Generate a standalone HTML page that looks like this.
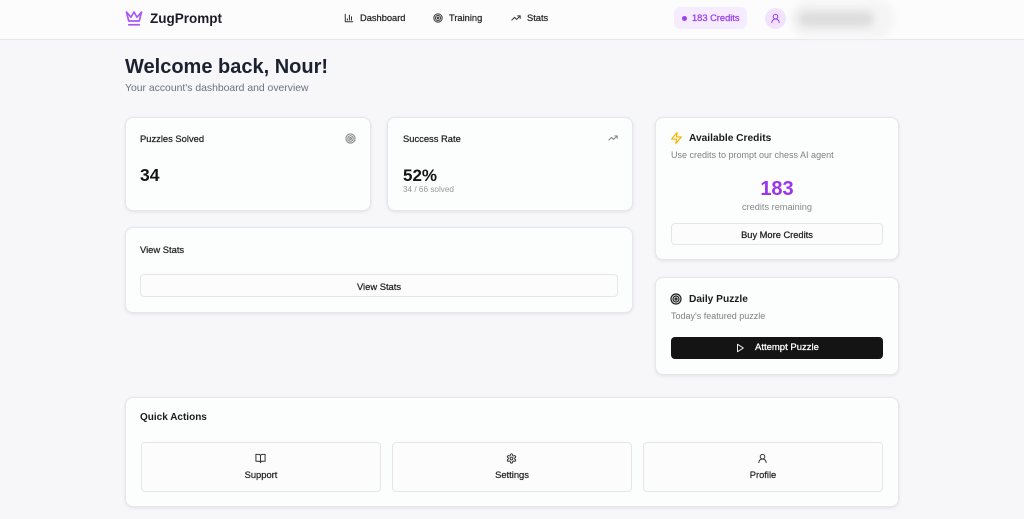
<!DOCTYPE html>
<html><head><meta charset="utf-8"><style>
*{margin:0;padding:0;box-sizing:border-box}
html,body{width:1024px;height:519px;overflow:hidden}
body{background:#f7f7f9;font-family:"Liberation Sans",Arial,sans-serif;position:relative;color:#222}
.a{position:absolute;white-space:nowrap}
.hdr{position:absolute;left:0;top:0;width:1024px;height:40px;background:#fcfcfd;border-bottom:1px solid #e8e8ec}
.card{position:absolute;background:#fcfdfd;border:1px solid #e6e7ea;border-radius:8px;box-shadow:0 1px 3px rgba(0,0,0,0.09)}
.btn{position:absolute;background:#fcfcfc;border:1px solid #e5e6e8;border-radius:4px}
.med{-webkit-text-stroke:0.25px currentColor}
svg{position:absolute;fill:none;stroke-linecap:round;stroke-linejoin:round}
</style></head><body>

<div class="hdr"></div>
<svg style="left:125px;top:9px" width="18" height="18" viewBox="0 0 24 24" stroke="#a855f7" stroke-width="2.2"><path d="M2 4l3 12h14l3-12-6 7-4-7-4 7-6-7z"/><path d="M5 21h14"/></svg>
<div class="a" style="left:150px;top:10px;font-size:13.5px;line-height:17px;font-weight:bold;color:#1c1c28">ZugPrompt</div>

<svg style="left:344px;top:13px" width="10" height="10" viewBox="0 0 24 24" stroke="#333" stroke-width="2.4"><path d="M3 3v18h18"/><path d="M18 17V9"/><path d="M13 17V5"/><path d="M8 17v-3"/></svg>
<div class="a med" style="left:360px;top:12px;font-size:9.3px;line-height:12px;color:#2a2a2a">Dashboard</div>
<svg style="left:433px;top:13px" width="10" height="10" viewBox="0 0 24 24" stroke="#333" stroke-width="2.4"><circle cx="12" cy="12" r="10"/><circle cx="12" cy="12" r="6"/><circle cx="12" cy="12" r="2"/></svg>
<div class="a med" style="left:449px;top:12px;font-size:9.3px;line-height:12px;color:#2a2a2a">Training</div>
<svg style="left:511px;top:13px" width="10" height="10" viewBox="0 0 24 24" stroke="#333" stroke-width="2.4"><polyline points="22 7 13.5 15.5 8.5 10.5 2 17"/><polyline points="16 7 22 7 22 13"/></svg>
<div class="a med" style="left:527px;top:12px;font-size:9.3px;line-height:12px;color:#2a2a2a">Stats</div>

<div class="a" style="left:674px;top:7px;width:73px;height:22px;background:#f6ecff;border-radius:6px"></div>
<div class="a" style="left:682px;top:16px;width:5px;height:5px;border-radius:50%;background:#a040f0"></div>
<div class="a med" style="left:692px;top:12px;font-size:9.3px;line-height:12px;color:#9b3cf0">183 Credits</div>
<div class="a" style="left:765px;top:8px;width:21px;height:21px;border-radius:50%;background:#f1e3fe"></div>
<svg style="left:770px;top:13px" width="11" height="11" viewBox="0 0 24 24" stroke="#9b3cf0" stroke-width="2.2"><circle cx="12" cy="8" r="5"/><path d="M20 21a8 8 0 0 0-16 0"/></svg>
<div class="a" style="left:790px;top:0px;width:105px;height:38px;background:#f5f5f6;border-radius:20px;filter:blur(3px)"></div>
<div class="a" style="left:798px;top:11px;width:76px;height:16px;background:#dddddd;border-radius:10px;filter:blur(4px)"></div>

<div class="a" style="left:125px;top:55px;font-size:20px;line-height:24px;font-weight:bold;color:#1b2130">Welcome back, Nour!</div>
<div class="a" style="left:125px;top:82px;font-size:10.4px;line-height:14px;color:#6b7280">Your account's dashboard and overview</div>

<!-- card 1 -->
<div class="card" style="left:125px;top:117px;width:246px;height:94px"></div>
<div class="a med" style="left:140px;top:133px;font-size:9.4px;line-height:12px;color:#262626">Puzzles Solved</div>
<svg style="left:345px;top:133px" width="11" height="11" viewBox="0 0 24 24" stroke="#888" stroke-width="2.4"><circle cx="12" cy="12" r="10"/><circle cx="12" cy="12" r="6"/><circle cx="12" cy="12" r="2"/></svg>
<div class="a" style="left:140px;top:165px;font-size:17.5px;line-height:20px;font-weight:bold;color:#141414">34</div>

<!-- card 2 -->
<div class="card" style="left:387px;top:117px;width:246px;height:94px"></div>
<div class="a med" style="left:403px;top:133px;font-size:9.4px;line-height:12px;color:#262626">Success Rate</div>
<svg style="left:608px;top:133px" width="10" height="10" viewBox="0 0 24 24" stroke="#777" stroke-width="2.2"><polyline points="22 7 13.5 15.5 8.5 10.5 2 17"/><polyline points="16 7 22 7 22 13"/></svg>
<div class="a" style="left:403px;top:166px;font-size:17px;line-height:20px;font-weight:bold;color:#141414">52%</div>
<div class="a" style="left:403px;top:185px;font-size:8.2px;line-height:10px;color:#999">34 / 66 solved</div>

<!-- card 3 -->
<div class="card" style="left:125px;top:227px;width:508px;height:86px"></div>
<div class="a med" style="left:140px;top:244px;font-size:9.4px;line-height:12px;color:#262626">View Stats</div>
<div class="btn" style="left:140px;top:274px;width:478px;height:23px"></div>
<div class="a med" style="left:140px;top:281px;width:478px;text-align:center;font-size:9.4px;line-height:12px;color:#262626">View Stats</div>

<!-- credits card -->
<div class="card" style="left:655px;top:117px;width:244px;height:143px"></div>
<svg style="left:670px;top:131px" width="13" height="14" viewBox="0 0 24 24" stroke="#f4b400" stroke-width="2.2"><path d="M13 2 3 14h9l-1 8 10-12h-9l1-8z"/></svg>
<div class="a" style="left:689px;top:132px;font-size:10.2px;line-height:13px;font-weight:bold;color:#1c1c1c">Available Credits</div>
<div class="a" style="left:671px;top:149px;font-size:9px;line-height:12px;color:#808080">Use credits to prompt our chess AI agent</div>
<div class="a" style="left:655px;top:177px;width:244px;text-align:center;font-size:20px;line-height:24px;font-weight:bold;color:#9b34ee">183</div>
<div class="a" style="left:655px;top:201px;width:244px;text-align:center;font-size:9.2px;line-height:12px;color:#888">credits remaining</div>
<div class="btn" style="left:671px;top:223px;width:212px;height:22px"></div>
<div class="a med" style="left:671px;top:229px;width:212px;text-align:center;font-size:9.3px;line-height:12px;color:#222">Buy More Credits</div>

<!-- daily puzzle -->
<div class="card" style="left:655px;top:277px;width:244px;height:98px"></div>
<svg style="left:670px;top:293px" width="12" height="12" viewBox="0 0 24 24" stroke="#1c1c1c" stroke-width="2.4"><circle cx="12" cy="12" r="10"/><circle cx="12" cy="12" r="6"/><circle cx="12" cy="12" r="2"/></svg>
<div class="a" style="left:689px;top:293px;font-size:10.2px;line-height:13px;font-weight:bold;color:#1c1c1c">Daily Puzzle</div>
<div class="a" style="left:671px;top:310px;font-size:9px;line-height:12px;color:#808080">Today's featured puzzle</div>
<div class="a" style="left:671px;top:337px;width:212px;height:22px;background:#141414;border-radius:4px"></div>
<svg style="left:735px;top:343px" width="10" height="10" viewBox="0 0 24 24" stroke="#fff" stroke-width="2.2"><polygon points="6 3 20 12 6 21 6 3"/></svg>
<div class="a med" style="left:755px;top:342px;font-size:9.5px;line-height:12px;color:#fff">Attempt Puzzle</div>

<!-- quick actions -->
<div class="card" style="left:125px;top:397px;width:774px;height:110px"></div>
<div class="a" style="left:140px;top:411px;font-size:10px;line-height:13px;font-weight:bold;color:#1c1c1c">Quick Actions</div>

<div class="btn" style="left:141px;top:442px;width:240px;height:50px"></div>
<svg style="left:255px;top:453px" width="11" height="11" viewBox="0 0 24 24" stroke="#333" stroke-width="2.2"><path d="M2 3h6a4 4 0 0 1 4 4v14a3 3 0 0 0-3-3H2z"/><path d="M22 3h-6a4 4 0 0 0-4 4v14a3 3 0 0 1 3-3h7z"/></svg>
<div class="a med" style="left:141px;top:469px;width:240px;text-align:center;font-size:9.4px;line-height:12px;color:#262626">Support</div>

<div class="btn" style="left:392px;top:442px;width:240px;height:50px"></div>
<svg style="left:506px;top:453px" width="11" height="11" viewBox="0 0 24 24" stroke="#333" stroke-width="2.2"><path d="M12.22 2h-.44a2 2 0 0 0-2 2v.18a2 2 0 0 1-1 1.73l-.43.25a2 2 0 0 1-2 0l-.15-.08a2 2 0 0 0-2.73.73l-.22.38a2 2 0 0 0 .73 2.73l.15.1a2 2 0 0 1 1 1.72v.51a2 2 0 0 1-1 1.74l-.15.09a2 2 0 0 0-.73 2.73l.22.38a2 2 0 0 0 2.73.73l.15-.08a2 2 0 0 1 2 0l.43.25a2 2 0 0 1 1 1.73V20a2 2 0 0 0 2 2h.44a2 2 0 0 0 2-2v-.18a2 2 0 0 1 1-1.73l.43-.25a2 2 0 0 1 2 0l.15.08a2 2 0 0 0 2.73-.73l.22-.39a2 2 0 0 0-.73-2.73l-.15-.08a2 2 0 0 1-1-1.74v-.5a2 2 0 0 1 1-1.74l.15-.09a2 2 0 0 0 .73-2.73l-.22-.38a2 2 0 0 0-2.73-.73l-.15.08a2 2 0 0 1-2 0l-.43-.25a2 2 0 0 1-1-1.73V4a2 2 0 0 0-2-2z"/><circle cx="12" cy="12" r="3"/></svg>
<div class="a med" style="left:392px;top:469px;width:240px;text-align:center;font-size:9.4px;line-height:12px;color:#262626">Settings</div>

<div class="btn" style="left:643px;top:442px;width:240px;height:50px"></div>
<svg style="left:757px;top:453px" width="11" height="11" viewBox="0 0 24 24" stroke="#333" stroke-width="2.2"><circle cx="12" cy="8" r="5"/><path d="M20 21a8 8 0 0 0-16 0"/></svg>
<div class="a med" style="left:643px;top:469px;width:240px;text-align:center;font-size:9.4px;line-height:12px;color:#262626">Profile</div>

</body></html>
